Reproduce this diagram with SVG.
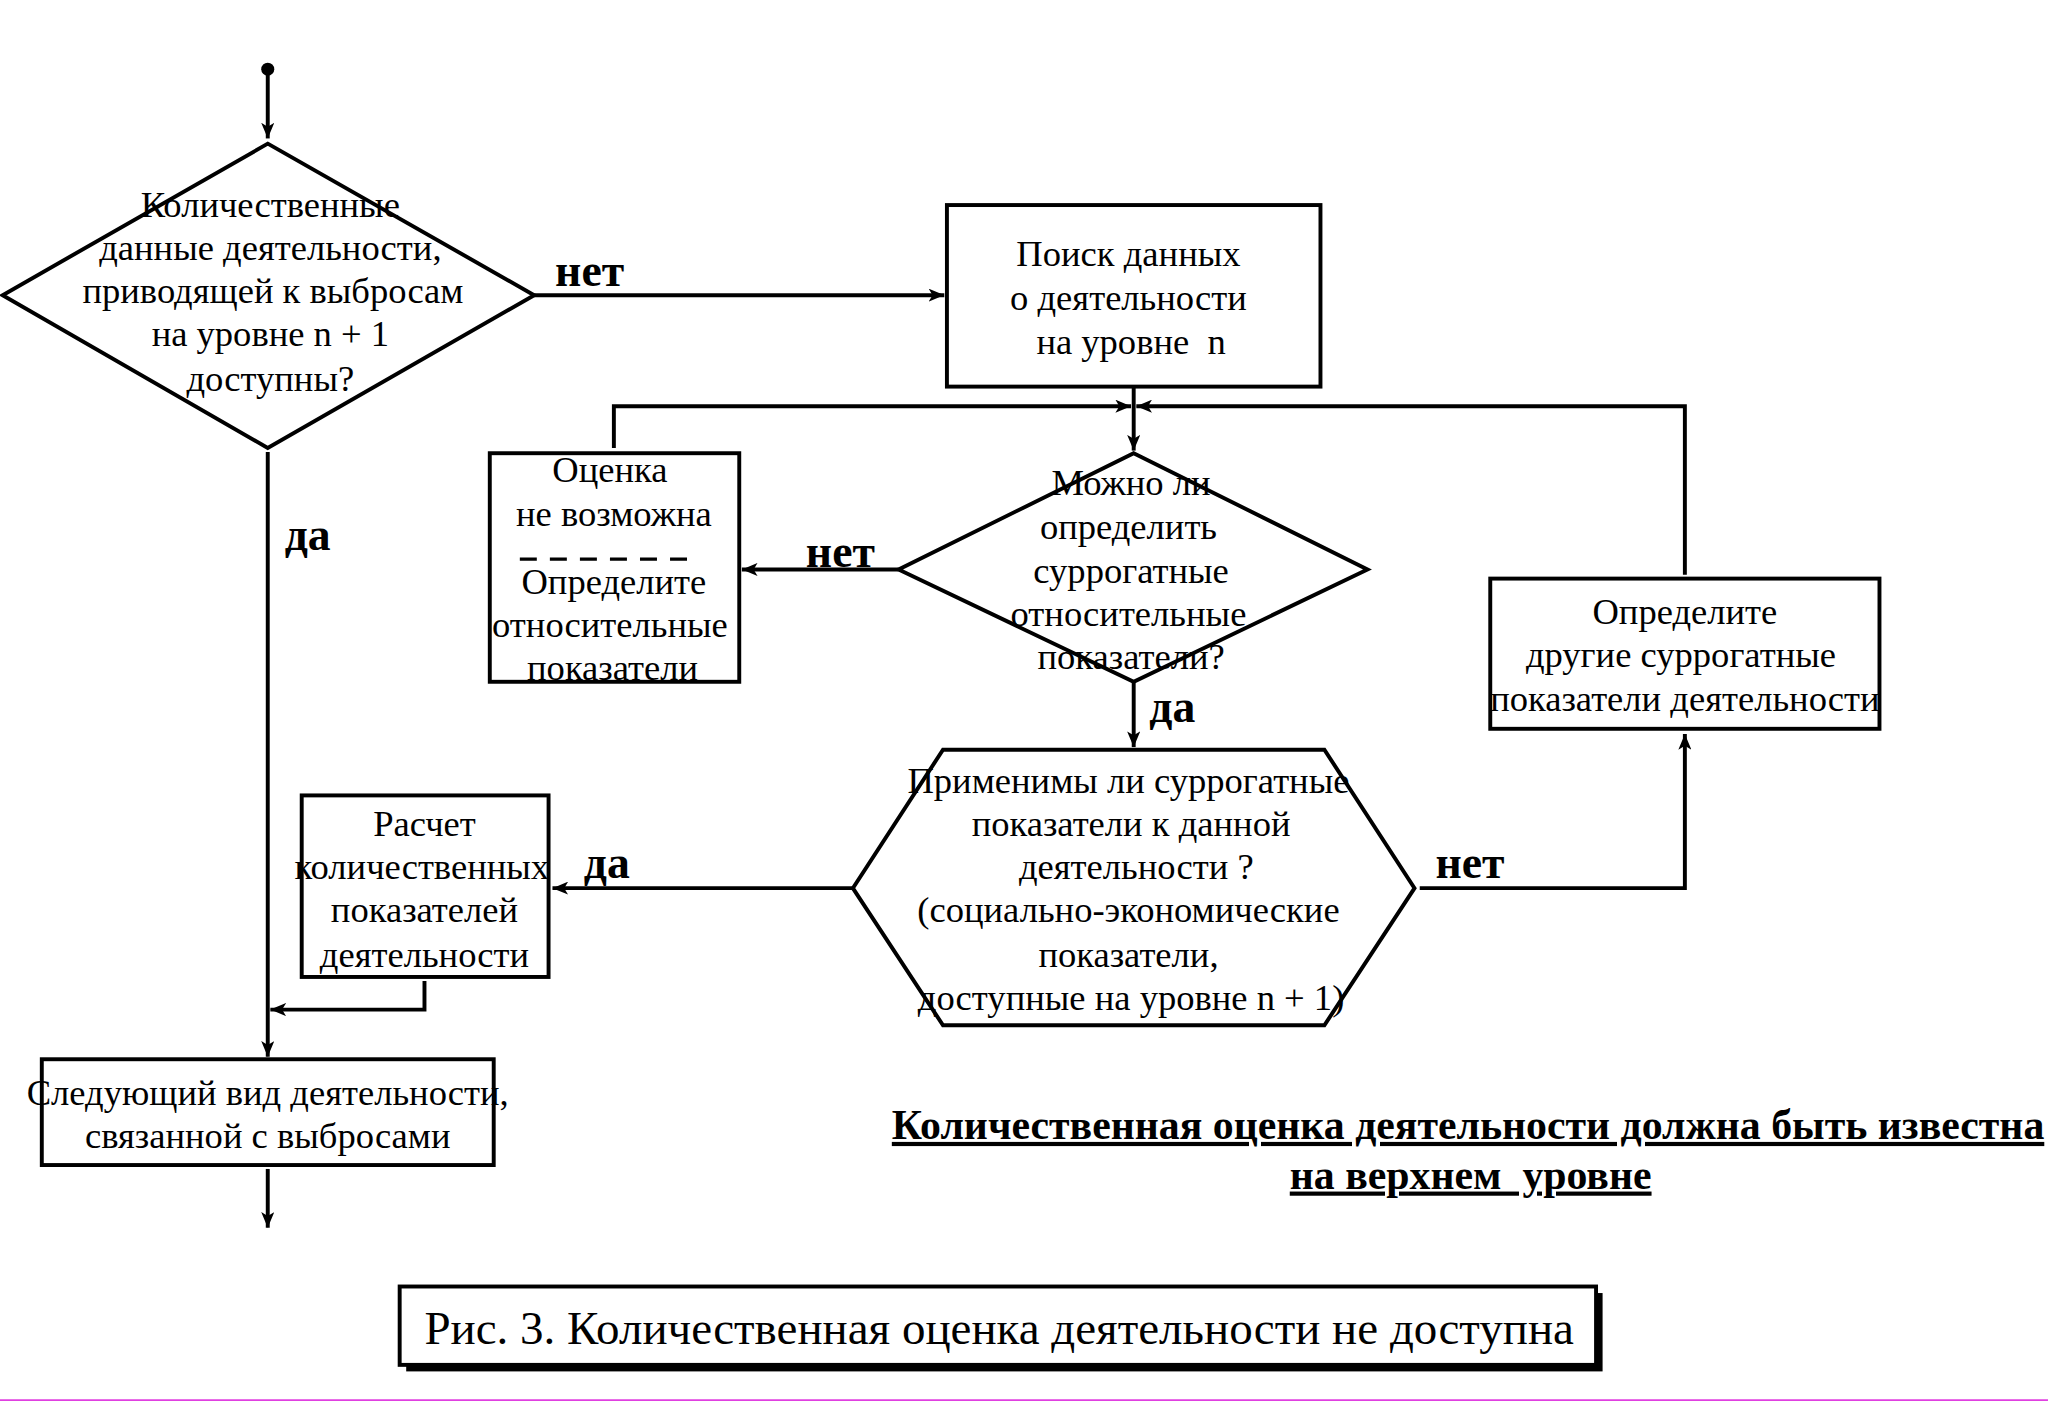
<svg xmlns="http://www.w3.org/2000/svg" width="2048" height="1402" viewBox="0 0 2048 1402">
<style>
.s{fill:#fff;stroke:#000;stroke-width:3}
.c{fill:none;stroke:#000;stroke-width:3}
.t{font-family:"Liberation Serif","Times New Roman",serif;font-size:28px;fill:#000;text-anchor:middle}
.b{font-family:"Liberation Serif","Times New Roman",serif;font-size:35px;font-weight:bold;fill:#000}
.n{font-family:"Liberation Serif","Times New Roman",serif;font-size:32px;font-weight:bold;fill:#000;text-anchor:middle;text-decoration:underline}
.cap{font-family:"Liberation Serif","Times New Roman",serif;font-size:36px;fill:#000;text-anchor:middle}
</style>
<defs>
<marker id="ah" viewBox="0 0 12 10" refX="12" refY="5" markerWidth="12" markerHeight="10" markerUnits="userSpaceOnUse" orient="auto">
<path d="M0,0 L12,5 L0,10 L3,5 z" fill="#000"/>
</marker>
</defs>
<rect width="2048" height="1402" fill="#fff"/>
<g transform="scale(1.3061)">
<g id="connectors">
<circle cx="205" cy="53" r="5" fill="#000"/>
<path class="c" d="M205,53 V106" marker-end="url(#ah)"/>
<path class="c" d="M409,226 H723" marker-end="url(#ah)"/>
<path class="c" d="M868,296 V345" marker-end="url(#ah)"/>
<path class="c" d="M470,343 V311 H866" marker-end="url(#ah)"/>
<path class="c" d="M1290,440 V311 H870" marker-end="url(#ah)"/>
<path class="c" d="M688,436 H568" marker-end="url(#ah)"/>
<path class="c" d="M868,522 V572" marker-end="url(#ah)"/>
<path class="c" d="M653,680 H423" marker-end="url(#ah)"/>
<path class="c" d="M1087,680 H1290 V562" marker-end="url(#ah)"/>
<path class="c" d="M205,346 V809" marker-end="url(#ah)"/>
<path class="c" d="M325,751 V773 H207" marker-end="url(#ah)"/>
<path class="c" d="M205,895 V940" marker-end="url(#ah)"/>
<text class="b" x="425" y="219">нет</text>
<text class="b" x="218" y="421">да</text>
<text class="b" x="617" y="434">нет</text>
<text class="b" x="880" y="553">да</text>
<text class="b" x="447" y="672">да</text>
<text class="b" x="1099" y="672">нет</text>
</g>
<g id="d1">
<polygon class="s" points="205,110 409,226 205,343 2,226"/>
<text class="t" x="207" y="166">Количественные</text>
<text class="t" x="207" y="199">данные деятельности,</text>
<text class="t" x="209" y="232">приводящей к выбросам</text>
<text class="t" x="207" y="265">на уровне n + 1</text>
<text class="t" x="207" y="299">доступны?</text>
</g>
<g id="search">
<rect class="s" x="725" y="157" width="286" height="139"/>
<text class="t" x="864" y="204">Поиск данных</text>
<text class="t" x="864" y="237">о деятельности</text>
<text class="t" x="866" y="271" xml:space="preserve">на уровне  n</text>
</g>
<g id="d2">
<polygon class="s" points="868,347 1047,436 868,522 688,436"/>
<text class="t" x="866" y="379">Можно ли</text>
<text class="t" x="864" y="413">определить</text>
<text class="t" x="866" y="446">суррогатные</text>
<text class="t" x="864" y="479">относительные</text>
<text class="t" x="866" y="512">показатели?</text>
</g>
<g id="impossible">
<rect class="s" x="375" y="347" width="191" height="175"/>
<text class="t" x="467" y="369">Оценка</text>
<text class="t" x="470" y="403">не возможна</text>
<line x1="398" y1="428" x2="528" y2="428" stroke="#000" stroke-width="2.5" stroke-dasharray="13,10"/>
<text class="t" x="470" y="455">Определите</text>
<text class="t" x="467" y="488">относительные</text>
<text class="t" x="469" y="521">показатели</text>
</g>
<g id="other">
<rect class="s" x="1141" y="443" width="298" height="115"/>
<text class="t" x="1290" y="478">Определите</text>
<text class="t" x="1287" y="511">другие суррогатные</text>
<text class="t" x="1290" y="544">показатели деятельности</text>
</g>
<g id="hex">
<polygon class="s" points="722,574 1014,574 1083,680 1014,785 722,785 653,680"/>
<text class="t" x="864" y="607">Применимы ли суррогатные</text>
<text class="t" x="866" y="640">показатели к данной</text>
<text class="t" x="870" y="673">деятельности ?</text>
<text class="t" x="864" y="706">(социально-экономические</text>
<text class="t" x="864" y="740">показатели,</text>
<text class="t" x="866" y="773">доступные на уровне n + 1)</text>
</g>
<g id="calc">
<rect class="s" x="231" y="609" width="189" height="139"/>
<text class="t" x="325" y="640">Расчет</text>
<text class="t" x="323" y="673">количественных</text>
<text class="t" x="325" y="706">показателей</text>
<text class="t" x="325" y="740">деятельности</text>
</g>
<g id="next">
<rect class="s" x="32" y="811" width="346" height="81"/>
<text class="t" x="205" y="846">Следующий вид деятельности,</text>
<text class="t" x="205" y="879">связанной с выбросами</text>
</g>
<g id="note">
<text class="n" x="1124" y="872">Количественная оценка деятельности должна быть известна</text>
<text class="n" x="1126" y="910" xml:space="preserve">на верхнем  уровне</text>
</g>
<g id="caption">
<rect x="311" y="990" width="916" height="60" fill="#000"/>
<rect x="306" y="985" width="916" height="60" fill="#fff" stroke="#000" stroke-width="3"/>
<text class="cap" x="765" y="1029">Рис. 3. Количественная оценка деятельности не доступна</text>
</g>
<line x1="0" y1="1072" x2="1568" y2="1072" stroke="#e040e0" stroke-width="1.5"/>
</g>
</svg>
